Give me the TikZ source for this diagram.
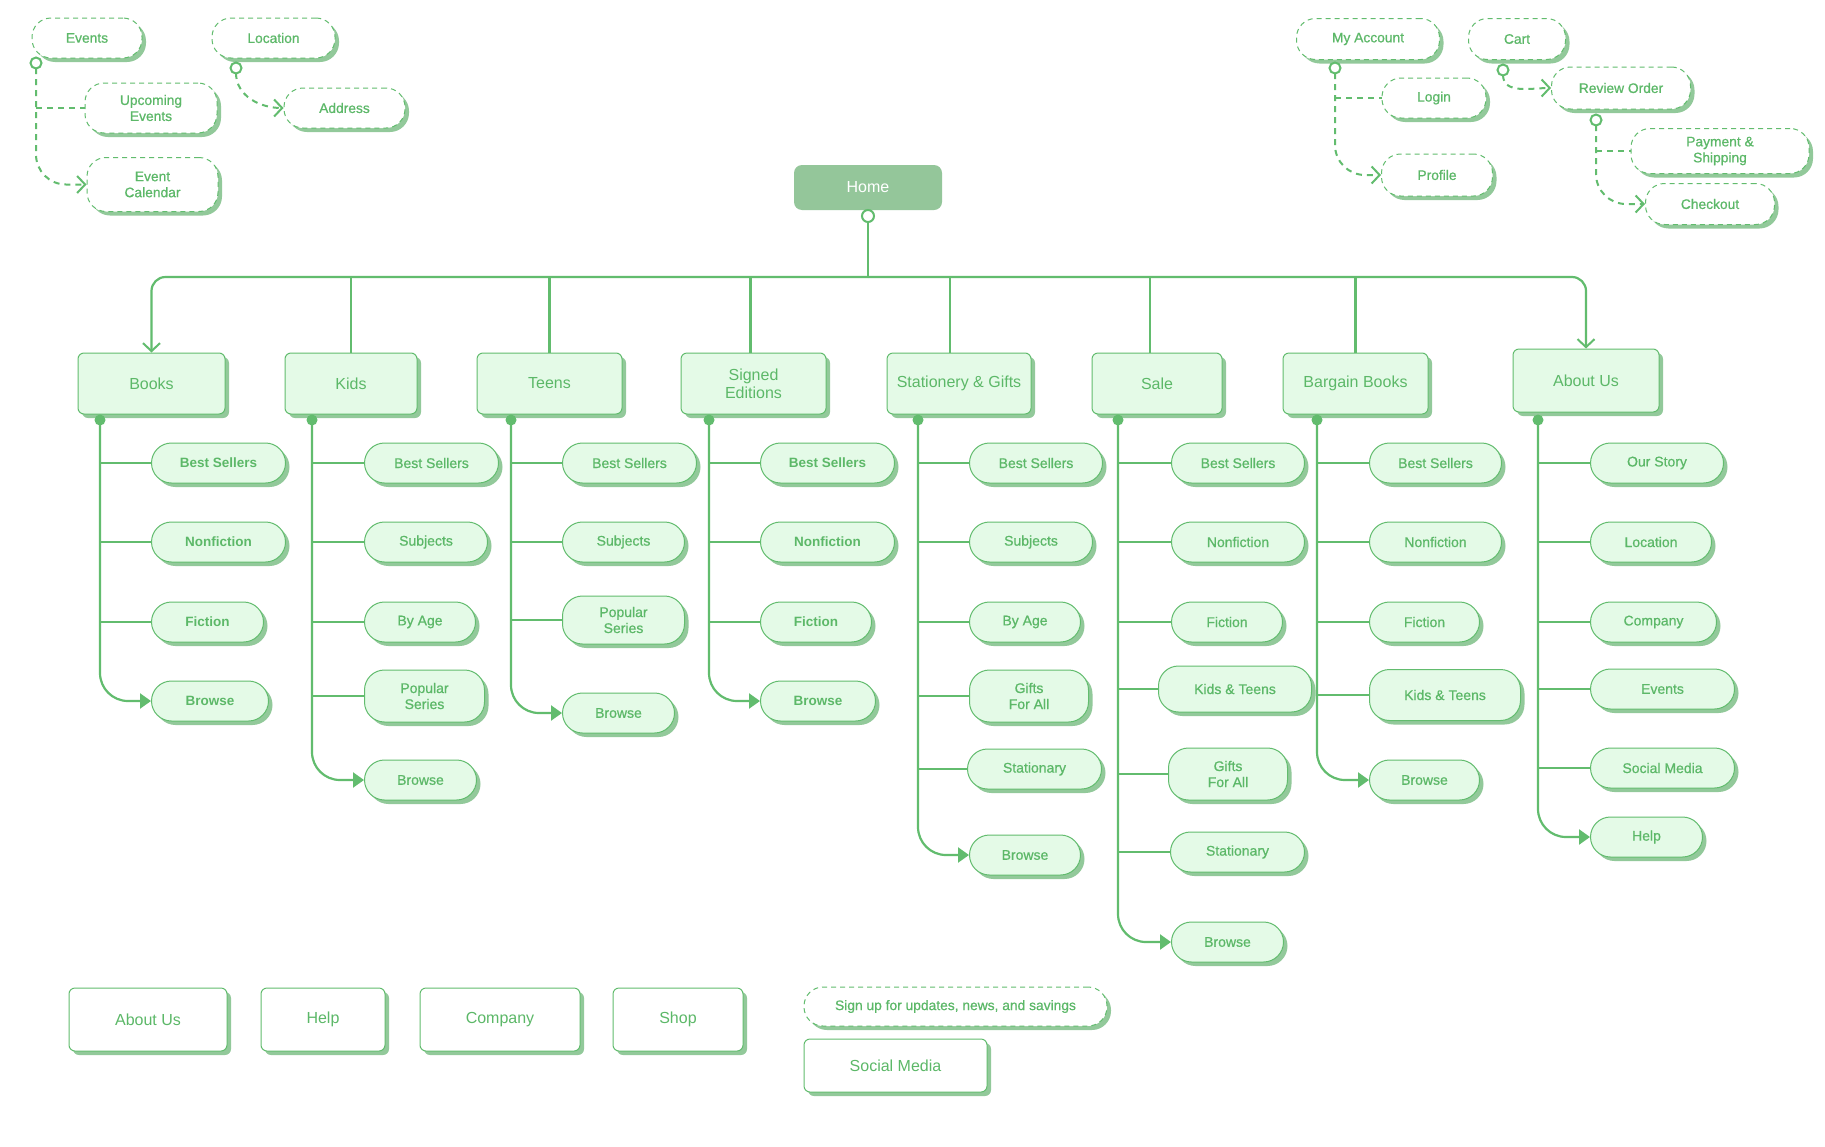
\documentclass[tikz,border=0pt]{standalone}
\usepackage{fontspec}
\setmainfont{Liberation Sans}
\newfontfamily\medfont[FakeBold=0.7]{Liberation Sans}
\usetikzlibrary{arrows.meta,shadows}
\definecolor{lg}{RGB}{98,188,110}
\definecolor{tg}{RGB}{92,184,104}
\definecolor{lf}{RGB}{228,250,231}
\definecolor{sg}{RGB}{146,201,154}
\definecolor{hf}{RGB}{148,198,154}
\tikzset{
  shsty/.style={drop shadow={shadow xshift=4pt,shadow yshift=-4pt,fill=sg,opacity=1}},
  lvl/.style={rectangle,rounded corners=6pt,draw=lg,line width=1pt,fill=lf,text=tg,
    font=\fontsize{16}{18}\selectfont,align=center,inner sep=0pt,shsty,minimum height=61pt},
  pill/.style={rectangle,rounded corners=20pt,draw=lg,line width=1pt,fill=lf,text=tg,
    font=\medfont\fontsize{14}{16}\selectfont,align=center,inner sep=0pt,shsty,minimum height=40pt,anchor=west},
  pillb/.style={pill,font=\bfseries\fontsize{13.5}{16}\selectfont},
  dpill/.style={rectangle,rounded corners=19pt,draw=lg,dash pattern=on 5pt off 4pt,line width=1pt,
    fill=white,text=tg,font=\medfont\fontsize{13.8}{16}\selectfont,align=center,inner sep=0pt,shsty,minimum height=40pt},
  bot/.style={rectangle,rounded corners=6pt,draw=lg,line width=1pt,fill=white,text=tg,
    font=\fontsize{16}{18}\selectfont,inner sep=0pt,shsty,minimum height=63pt},
  conn/.style={draw=lg,line width=2.2pt},
  dconn/.style={draw=lg,line width=2pt,dash pattern=on 6pt off 5pt},
  dotn/.style={circle,fill=lg,inner sep=0pt,minimum size=11pt},
  odot/.style={circle,draw=lg,line width=2pt,fill=white,inner sep=0pt,minimum size=11pt},
  tobarb/.style={-{Straight Barb[length=8pt,width=17pt,line width=2pt]}},
  totri/.style={-{Triangle[length=11pt,width=15pt]}}
}
\begin{document}
\begin{tikzpicture}[x=1pt,y=-1pt]
\useasboundingbox[fill=white] (0,0) rectangle (1825,1146);

% ---------- top dashed groups ----------
\node[dpill,minimum width=110pt] (ev) at (87,38) {Events};
\node[dpill,minimum width=132pt,minimum height=50pt] (up) at (151,108) {Upcoming\\Events};
\node[dpill,minimum width=131pt,minimum height=54pt] (ec) at (152.5,184.5) {Event\\Calendar};
\node[dpill,minimum width=123pt] (lo) at (273.5,38) {Location};
\node[dpill,minimum width=121pt] (ad) at (344.5,108) {Address};
\node[dpill,minimum width=143pt,minimum height=41pt] (ma) at (1368,39) {My Account};
\node[dpill,minimum width=104pt] (li) at (1434,98) {Login};
\node[dpill,minimum width=111pt,minimum height=42pt] (pr) at (1437,175) {Profile};
\node[dpill,minimum width=97pt,minimum height=41pt] (ca) at (1517,39) {Cart};
\node[dpill,minimum width=139pt,minimum height=42pt] (ro) at (1621,88) {Review Order};
\node[dpill,minimum width=178pt,minimum height=45pt] (pa) at (1720,151) {Payment \&\\Shipping};
\node[dpill,minimum width=129pt,minimum height=41pt] (ch) at (1710,204) {Checkout};

\draw[dconn,rounded corners=30pt,tobarb] (36,68) coordinate (ev0s) |- (ec.west);
\draw[dconn] (ev0s |- up.west) -- (up.west);
\draw[dconn,tobarb] (236,73) coordinate (lo0s) to[out=-90,in=180] (ad.west);
\draw[dconn,rounded corners=30pt,tobarb] (1335,73) coordinate (ma0s) |- (pr.west);
\draw[dconn] (ma0s |- li.west) -- (li.west);
\draw[dconn,tobarb] (1503,75) coordinate (ca0s) to[out=-90,in=180] (ro.west);
\draw[dconn,rounded corners=30pt,tobarb] (1596,125) coordinate (ro0s) |- (ch.west);
\draw[dconn] (ro0s |- pa.west) -- (pa.west);
\node[odot] (ev0) at (36,63) {};
\node[odot] (lo0) at (236,68) {};
\node[odot] (ma0) at (1335,68) {};
\node[odot] (ca0) at (1503,70) {};
\node[odot] (ro0) at (1596,120) {};

% ---------- home ----------
\node[rectangle,rounded corners=8pt,fill=hf,text=white,font=\fontsize{16}{18}\selectfont,
  minimum width=148pt,minimum height=45pt,inner sep=0pt] (home) at (868,187.5) {Home};
\coordinate (bus) at (868,277);
\draw[conn] (home.south) -- (bus);
\node[odot,minimum size=12pt] (h0) at (868,216) {};

% ---------- level 1 ----------
\node[lvl,minimum width=147pt] (books) at (151.5,383.5) {Books};
\node[lvl,minimum width=132pt] (kids) at (351,383.5) {Kids};
\node[lvl,minimum width=145pt] (teens) at (549.5,383.5) {Teens};
\node[lvl,minimum width=145pt] (signed) at (753.5,383.5) {Signed\\Editions};
\node[lvl,minimum width=144pt] (stat) at (959,383.5) {Stationery \& Gifts};
\node[lvl,minimum width=130pt] (sale) at (1157,383.5) {Sale};
\node[lvl,minimum width=145pt] (barg) at (1355.5,383.5) {Bargain Books};
\node[lvl,minimum width=146pt,minimum height=63pt] (about) at (1586,380.5) {About Us};

\draw[conn,rounded corners=14pt,tobarb] (bus) -| (books.north);
\draw[conn,rounded corners=14pt,tobarb] (bus) -| (about.north);
\coordinate (signedT) at ([xshift=-3pt]signed.north);
\coordinate (statT) at ([xshift=-9pt]stat.north);
\coordinate (saleT) at ([xshift=-7pt]sale.north);
\draw[conn] (bus -| kids.north) -- (kids.north);
\draw[conn] (bus -| teens.north) -- (teens.north);
\draw[conn] (bus -| signedT) -- (signedT);
\draw[conn] (bus -| statT) -- (statT);
\draw[conn] (bus -| saleT) -- (saleT);
\draw[conn] (bus -| barg.north) -- (barg.north);

% ---------- level 2 ----------
% Books
\node[pillb,minimum width=134pt] (b1) at (151,463) {Best Sellers};
\node[pillb,minimum width=134pt] (b2) at (151,542) {Nonfiction};
\node[pillb,minimum width=112pt] (b3) at (151,622) {Fiction};
\node[pillb,minimum width=117pt] (b4) at (151,701) {Browse};
% Kids
\node[pill,minimum width=134pt] (k1) at (364,463) {Best Sellers};
\node[pill,minimum width=123pt] (k2) at (364,542) {Subjects};
\node[pill,minimum width=111pt] (k3) at (364,622) {By Age};
\node[pill,minimum width=120pt,minimum height=52pt] (k4) at (364,696) {Popular\\Series};
\node[pill,minimum width=112pt] (k5) at (364,780) {Browse};
% Teens
\node[pill,minimum width=134pt] (t1) at (562,463) {Best Sellers};
\node[pill,minimum width=122pt] (t2) at (562,542) {Subjects};
\node[pill,minimum width=122pt,minimum height=48pt] (t3) at (562,620) {Popular\\Series};
\node[pill,minimum width=112pt] (t4) at (562,713) {Browse};
% Signed
\node[pillb,minimum width=134pt] (s1) at (760,463) {Best Sellers};
\node[pillb,minimum width=134pt] (s2) at (760,542) {Nonfiction};
\node[pillb,minimum width=111pt] (s3) at (760,622) {Fiction};
\node[pillb,minimum width=115pt] (s4) at (760,701) {Browse};
% Stationery
\node[pill,minimum width=133pt] (g1) at (969,463) {Best Sellers};
\node[pill,minimum width=123pt] (g2) at (969,542) {Subjects};
\node[pill,minimum width=111pt] (g3) at (969,622) {By Age};
\node[pill,minimum width=119pt,minimum height=52pt] (g4) at (969,696) {Gifts\\For All};
\node[pill,minimum width=134pt] (g5) at (967,769) {Stationary};
\node[pill,minimum width=111pt] (g6) at (969,855) {Browse};
% Sale
\node[pill,minimum width=133pt] (a1) at (1171,463) {Best Sellers};
\node[pill,minimum width=133pt] (a2) at (1171,542) {Nonfiction};
\node[pill,minimum width=111pt] (a3) at (1171,622) {Fiction};
\node[pill,minimum width=153pt,minimum height=46pt] (a4) at (1158,689) {Kids \& Teens};
\node[pill,minimum width=119pt,minimum height=52pt] (a5) at (1168,774) {Gifts\\For All};
\node[pill,minimum width=134pt] (a6) at (1170,852) {Stationary};
\node[pill,minimum width=112pt] (a7) at (1171,942) {Browse};
% Bargain
\node[pill,minimum width=132pt] (r1) at (1369,463) {Best Sellers};
\node[pill,minimum width=132pt] (r2) at (1369,542) {Nonfiction};
\node[pill,minimum width=110pt] (r3) at (1369,622) {Fiction};
\node[pill,minimum width=151pt,minimum height=51pt] (r4) at (1369,695) {Kids \& Teens};
\node[pill,minimum width=110pt] (r5) at (1369,780) {Browse};
% About
\node[pill,minimum width=133pt] (u1) at (1590,463) {Our Story};
\node[pill,minimum width=121pt] (u2) at (1590,542) {Location};
\node[pill,minimum width=126pt] (u3) at (1590,622) {Company};
\node[pill,minimum width=144pt] (u4) at (1590,689) {Events};
\node[pill,minimum width=144pt] (u5) at (1590,768) {Social Media};
\node[pill,minimum width=112pt] (u6) at (1590,837) {Help};

% trunks
\newcommand\mytrunk[4]{%
  \node[dotn] (#1) at (#2,420) {};
  \draw[conn,rounded corners=28pt,totri] (#1.center) |- (#3.west);
  \foreach \c in {#4}{\draw[conn] (#1 |- \c.west) -- (\c.west);}
}
\mytrunk{bd}{100}{b4}{b1,b2,b3}
\mytrunk{kd}{312}{k5}{k1,k2,k3,k4}
\mytrunk{td}{511}{t4}{t1,t2,t3}
\mytrunk{sd}{709}{s4}{s1,s2,s3}
\mytrunk{gd}{918}{g6}{g1,g2,g3,g4,g5}
\mytrunk{ad0}{1118}{a7}{a1,a2,a3,a4,a5,a6}
\mytrunk{rd}{1317}{r5}{r1,r2,r3,r4}
\mytrunk{ud}{1538}{u6}{u1,u2,u3,u4,u5}

% ---------- bottom ----------
\node[bot,minimum width=158pt] (bA) at (148,1019.5) {About Us};
\node[bot,minimum width=124pt] (bH) at (323,1019.5) {Help};
\node[bot,minimum width=160pt] (bC) at (500,1019.5) {Company};
\node[bot,minimum width=130pt] (bS) at (678,1019.5) {Shop};
\node[dpill,minimum width=303pt,minimum height=39pt] (sign) at (955.5,1006.5) {Sign up for updates, news, and savings};
\node[bot,minimum width=183pt,minimum height=53pt] (soc) at (895.5,1065.5) {Social Media};
\end{tikzpicture}
\end{document}
